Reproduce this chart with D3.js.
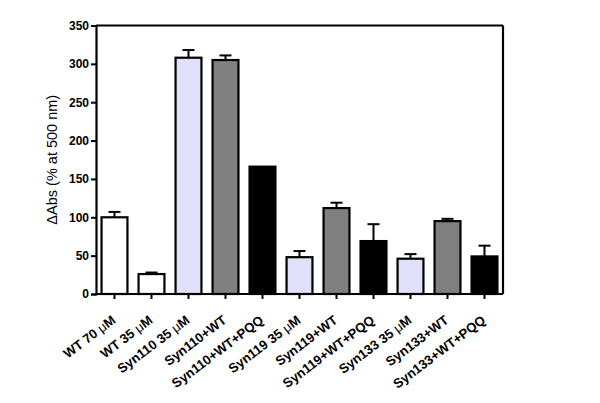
<!DOCTYPE html>
<html><head><meta charset="utf-8">
<script src="https://cdn.jsdelivr.net/npm/d3@7"></script>
<style>body{margin:0;background:#fff}svg{display:block}text{font-family:"Liberation Sans",Arial,sans-serif}</style>
</head><body>
<svg id="c" width="600" height="403"></svg>
<script>
const categories = ["WT 70 μM","WT 35 μM","Syn110 35 μM","Syn110+WT","Syn110+WT+PQQ","Syn119 35 μM","Syn119+WT","Syn119+WT+PQQ","Syn133 35 μM","Syn133+WT","Syn133+WT+PQQ"];
const values = [100, 26, 308, 305, 166, 48, 112, 69, 46, 95, 49];
const errors = [7, 2, 10, 6, 0, 8, 7, 22, 6, 3, 14];
const fills = ["#ffffff","#ffffff","#e0e0fa","#808080","#000000","#e0e0fa","#808080","#000000","#e0e0fa","#808080","#000000"];
const yTicks = [0,50,100,150,200,250,300,350];

const svg = d3.select("#c");
const L=96, R=503, T=25.5, B=294;
const x = d3.scaleBand().domain(categories).range([L,R]).paddingInner(0.3).paddingOuter(0.15);
const y = d3.scaleLinear().domain([0,350]).range([B,T]);

svg.append("line").attr("x1",L).attr("x2",R).attr("y1",T).attr("y2",T).attr("stroke","#000").attr("stroke-width",2.2);
svg.append("line").attr("x1",R).attr("x2",R).attr("y1",T).attr("y2",B).attr("stroke","#000").attr("stroke-width",2.2);

const eg = svg.append("g");
categories.forEach((c,i)=>{
  if(!errors[i]) return;
  const cx = x(c)+x.bandwidth()/2;
  eg.append("line").attr("x1",cx).attr("x2",cx).attr("y1",y(values[i])).attr("y2",y(values[i]+errors[i])).attr("stroke","#000").attr("stroke-width",2);
  eg.append("line").attr("x1",cx-6).attr("x2",cx+6).attr("y1",y(values[i]+errors[i])).attr("y2",y(values[i]+errors[i])).attr("stroke","#000").attr("stroke-width",2);
});

svg.append("g").selectAll("rect").data(categories).join("rect")
  .attr("x",d=>x(d)).attr("width",x.bandwidth())
  .attr("y",(d,i)=>y(values[i])).attr("height",(d,i)=>B-y(values[i]))
  .attr("fill",(d,i)=>fills[i]).attr("stroke","#000").attr("stroke-width",2.2);

const ya = svg.append("g").attr("transform",`translate(${L},0)`)
  .call(d3.axisLeft(y).tickValues(yTicks).tickSize(5).tickPadding(2));
ya.select(".domain").attr("stroke-width",2.2);
ya.selectAll(".tick line").attr("stroke-width",2);
ya.selectAll("text").attr("font-size",12).attr("font-weight","bold").attr("fill","#000");

const xa = svg.append("g").attr("transform",`translate(0,${B})`)
  .call(d3.axisBottom(x).tickSize(5).tickSizeOuter(0));
xa.select(".domain").attr("d",`M${L},0H${R}`).attr("stroke-width",2.2);
xa.selectAll(".tick line").attr("stroke-width",2);
xa.selectAll("text").attr("font-size",13.2).attr("font-weight","bold").attr("fill","#000")
  .attr("text-anchor","end").attr("dy",0).attr("y",0)
  .attr("transform","translate(2,28) rotate(-37)")
  .each(function(d){
    const t = d3.select(this); const parts = d.split("μ");
    t.text(null);
    parts.forEach((p,k)=>{
      if(k>0) t.append("tspan").attr("font-weight","normal").text("μ");
      t.append("tspan").text(p);
    });
  });

svg.append("text").attr("transform",`translate(57,${(T+B)/2}) rotate(-90)`)
  .attr("text-anchor","middle").attr("font-size",14.5).attr("fill","#000")
  .text("ΔAbs (% at 500 nm)");
</script>
</body></html>
